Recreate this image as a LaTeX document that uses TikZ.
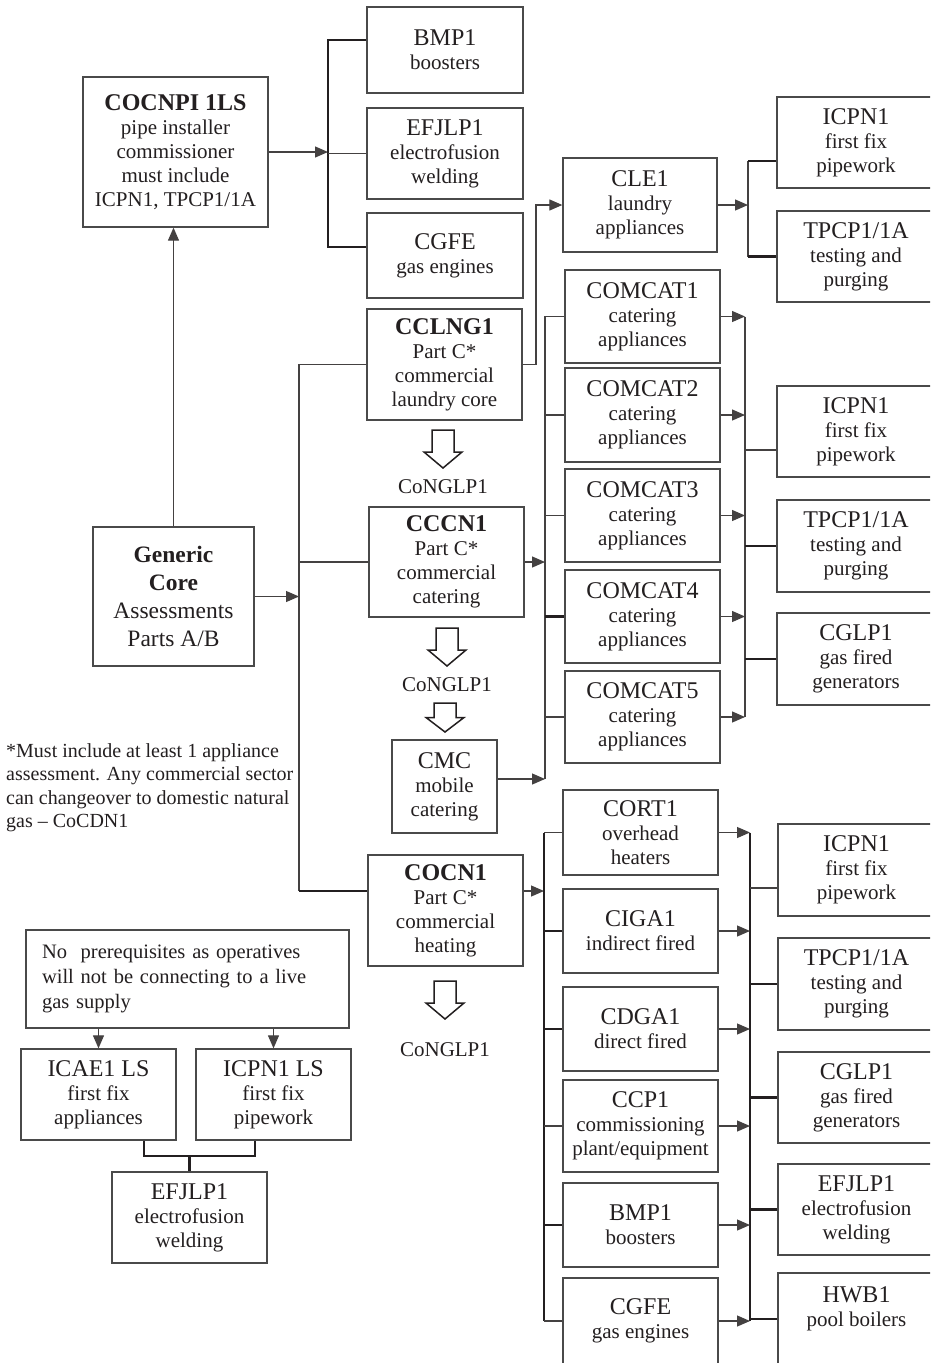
\documentclass[tikz,border=0pt]{standalone}
\usepackage{fontspec}
\setmainfont{Liberation Serif}
\usetikzlibrary{arrows.meta,calc}
\definecolor{ink}{HTML}{231F20}
\definecolor{frame}{HTML}{4A4A4A}
\newcommand\subf{\fontsize{21}{24}\selectfont}
\newcommand\ttlf{\fontsize{24}{24}\selectfont}
\newcommand\hd[1]{{\ttlf #1}}
\newcommand\hdb[1]{{\ttlf\bfseries #1}}

\begin{document}
\begin{tikzpicture}[x=1pt,y=-1pt,
  unit/.style={draw=frame, line width=1.3pt, inner sep=0pt, align=center, text=ink, font=\subf},
  thinln/.style={draw=ink!85, line width=1.2pt},
  thickln/.style={draw=ink, line width=2.2pt},
  tip/.style={-{Triangle[length=13pt,width=11pt]}},
  lab/.style={inner sep=0pt, text=ink, font=\subf},
  hollow/.pic={\draw[draw=ink, line width=1.5pt, fill=white, line join=miter]
     (-11,-19) -- (11,-19) -- (11,3) -- (19,3) -- (0,19) -- (-19,3) -- (-11,3) -- cycle;},
  hollowshort/.pic={\draw[draw=ink, line width=1.5pt, fill=white, line join=miter]
     (-11,-14.5) -- (11,-14.5) -- (11,0) -- (19,0) -- (0,14.5) -- (-19,0) -- (-11,0) -- cycle;}
]
\useasboundingbox (0,0) rectangle (930,1363);
\fill[white] (0,0) rectangle (930,1363);
\clip (0,0) rectangle (930,1363);

% ---------- pipe installer branch ----------
\node[unit, minimum width=185pt, minimum height=150pt] (cocnpi) at (175.5,152)
  {\hdb{COCNPI 1LS}\\pipe installer\\commissioner\\must include\\ICPN1, TPCP1/1A};
\node[unit, minimum width=156pt, minimum height=86pt] (bmpA) at (445,50) {\hd{BMP1}\\boosters};
\node[unit, minimum width=156pt, minimum height=91pt] (efjA) at (445,153.5) {\hd{EFJLP1}\\electrofusion\\welding};
\node[unit, minimum width=156pt, minimum height=85pt] (cgfeA) at (445,255.5) {\hd{CGFE}\\gas engines};

% ---------- laundry branch ----------
\node[unit, minimum width=154pt, minimum height=94pt] (cle) at (640,205) {\hd{CLE1}\\laundry\\appliances};
\node[unit, minimum width=158pt, minimum height=91pt] (icpnA) at (856,142.5) {\hd{ICPN1}\\first fix\\pipework};
\node[unit, minimum width=158pt, minimum height=91pt] (tpcpA) at (856,256.5) {\hd{TPCP1/1A}\\testing and\\purging};
\node[unit, minimum width=155pt, minimum height=111pt] (cclng) at (444.5,364.5)
  {\hdb{CCLNG1}\\Part C*\\commercial\\laundry core};

% ---------- catering branch ----------
\node[unit, minimum width=155pt, minimum height=93pt] (cat1) at (642.5,316.5) {\hd{COMCAT1}\\catering\\appliances};
\node[unit, minimum width=155pt, minimum height=94pt] (cat2) at (642.5,415) {\hd{COMCAT2}\\catering\\appliances};
\node[unit, minimum width=155pt, minimum height=93pt] (cat3) at (642.5,515.5) {\hd{COMCAT3}\\catering\\appliances};
\node[unit, minimum width=155pt, minimum height=93pt] (cat4) at (642.5,616.5) {\hd{COMCAT4}\\catering\\appliances};
\node[unit, minimum width=155pt, minimum height=92pt] (cat5) at (642.5,717) {\hd{COMCAT5}\\catering\\appliances};
\node[unit, minimum width=158pt, minimum height=91pt] (icpnB) at (856,431.5) {\hd{ICPN1}\\first fix\\pipework};
\node[unit, minimum width=158pt, minimum height=92pt] (tpcpB) at (856,546) {\hd{TPCP1/1A}\\testing and\\purging};
\node[unit, minimum width=158pt, minimum height=92pt] (cglpB) at (856,659) {\hd{CGLP1}\\gas fired\\generators};
\node[unit, minimum width=155pt, minimum height=110pt] (cccn) at (446.5,562)
  {\hdb{CCCN1}\\Part C*\\commercial\\catering};
\node[unit, minimum width=105pt, minimum height=93pt] (cmc) at (444.5,786.5) {\hd{CMC}\\mobile\\catering};

% ---------- core ----------
\node[unit, minimum width=161pt, minimum height=139pt, font=\fontsize{23.5}{28}\selectfont] (generic) at (173.5,596.5)
  {{\bfseries Generic}\\{\bfseries Core}\\Assessments\\Parts A/B};

% ---------- heating branch ----------
\node[unit, minimum width=155pt, minimum height=111pt] (cocn) at (445.5,910.5)
  {\hdb{COCN1}\\Part C*\\commercial\\heating};
\node[unit, minimum width=155pt, minimum height=85pt] (cort) at (640.5,832.5) {\hd{CORT1}\\overhead\\heaters};
\node[unit, minimum width=155pt, minimum height=84pt] (ciga) at (640.5,931) {\hd{CIGA1}\\indirect fired};
\node[unit, minimum width=155pt, minimum height=84pt] (cdga) at (640.5,1029) {\hd{CDGA1}\\direct fired};
\node[unit, minimum width=155pt, minimum height=92pt] (ccp) at (640.5,1126) {\hd{CCP1}\\commissioning\\plant/equipment};
\node[unit, minimum width=155pt, minimum height=84pt] (bmpB) at (640.5,1225) {\hd{BMP1}\\boosters};
\node[unit, minimum width=155pt, minimum height=86pt] (cgfeB) at (640.5,1321) {\hd{CGFE}\\gas engines};
\node[unit, minimum width=157pt, minimum height=92pt] (icpnC) at (856.5,870) {\hd{ICPN1}\\first fix\\pipework};
\node[unit, minimum width=157pt, minimum height=92pt] (tpcpC) at (856.5,984) {\hd{TPCP1/1A}\\testing and\\purging};
\node[unit, minimum width=157pt, minimum height=91pt] (cglpC) at (856.5,1097.5) {\hd{CGLP1}\\gas fired\\generators};
\node[unit, minimum width=157pt, minimum height=91pt] (efjC) at (856.5,1209.5) {\hd{EFJLP1}\\electrofusion\\welding};
\node[unit, minimum width=157pt, minimum height=92pt] (hwb) at (856.5,1319) {\hd{HWB1}\\pool boilers\\\mbox{}};

% ---------- no-prerequisite route ----------
\node[unit, align=left, text width=291pt, inner xsep=16pt, minimum height=98pt,
      font=\fontsize{20.5}{25}\selectfont] (nopre) at (187.5,979)
  {No~ prerequisites as operatives\\will not be connecting to a live\\gas supply};
\node[unit, minimum width=155pt, minimum height=91pt] (icae) at (98.5,1094.5) {\hd{ICAE1 LS}\\first fix\\appliances};
\node[unit, minimum width=155pt, minimum height=91pt] (icpnL) at (273.5,1094.5) {\hd{ICPN1 LS}\\first fix\\pipework};
\node[unit, minimum width=155pt, minimum height=91pt] (efjL) at (189.5,1217.5) {\hd{EFJLP1}\\electrofusion\\welding};

% ---------- footnote ----------
\node[anchor=north west, align=left, inner sep=0pt, text=ink, font=\fontsize{20}{23.5}\selectfont] (note) at (6,743)
  {*Must include at least 1 appliance\\assessment. Any commercial sector\\can changeover to domestic natural\\gas – CoCDN1};

% ---------- progression arrows and labels ----------
\pic at (443,449) {hollow};
\node[lab] (ngl1) at (443,487) {CoNGLP1};
\pic at (447,647) {hollow};
\node[lab] (ngl2) at (447,685) {CoNGLP1};
\pic at (445,717.5) {hollowshort};
\pic at (445,1000) {hollow};
\node[lab] (ngl3) at (445,1050) {CoNGLP1};

% ---------- connectors: core ----------
\draw[thinln, tip] (generic.north) -- (generic.north |- cocnpi.south);
\coordinate (mbT) at (299,364.5);
\coordinate (mbB) at (299,891);
\draw[thinln] (cclng.west) -- (mbT) -- (mbB);
\draw[thinln] (cccn.west) -- (cccn.west -| mbT);
\draw[thickln] (mbB) -- ([yshift=19.5pt]cocn.west);
\draw[thinln, tip] (generic.east) -- (generic.east -| mbT);

% pipe installer bracket
\coordinate (tlT) at (328,40);
\coordinate (tlB) at (328,247);
\draw[thinln, tip] (cocnpi.east) -- (cocnpi.east -| tlT);
\draw[thickln] (bmpA.west |- tlT) -- (tlT) -- (tlB) -- (cgfeA.west |- tlB);
\draw[thinln] (efjA.west) -- (efjA.west -| tlT);

% laundry
\coordinate (lj) at (536,364.5);
\draw[thinln, tip] (cclng.east) -- (lj) |- (cle.west);
\coordinate (clT) at (748,161);
\coordinate (clB) at (748,256.5);
\draw[thinln, tip] (cle.east) -- (cle.east -| clT);
\draw[thinln] (clT) -- (clB);
\draw[thickln] (clT) -- (icpnA.west |- clT);
\draw[thickln] (clB) -- (tpcpA.west);

% catering
\coordinate (cbT) at (545,316.5);
\coordinate (cbB) at (545,779);
\draw[thinln] (cat1.west) -- (cbT) -- (cbB);
\draw[thinln] (cat2.west) -- (cat2.west -| cbT);
\draw[thinln] (cat3.west) -- (cat3.west -| cbT);
\draw[thickln] (cat4.west) -- (cat4.west -| cbT);
\draw[thinln] (cat5.west) -- (cat5.west -| cbT);
\draw[thinln, tip] (cccn.east) -- (cccn.east -| cbT);
\draw[thinln, tip] (cmc.east |- cbB) -- (cbB);
\coordinate (crT) at (745,316.5);
\coordinate (crB) at (745,717);
\draw[thinln] (crT) -- (crB);
\foreach \c in {cat1,cat2,cat3,cat4,cat5}
  \draw[thinln, tip] (\c.east) -- (\c.east -| crT);
\draw[thinln] ([yshift=-18.5pt]icpnB.west) -- ([yshift=-18.5pt]icpnB.west -| crT);
\draw[thickln] (tpcpB.west) -- (tpcpB.west -| crT);
\draw[thickln] (cglpB.west) -- (cglpB.west -| crT);

% heating
\coordinate (hbT) at (544,832.5);
\coordinate (hbB) at (544,1321);
\draw[thinln, tip] ([yshift=19.5pt]cocn.east) -- ([yshift=19.5pt]cocn.east -| hbT);
\draw[thickln] (hbT) -- (hbB);
\draw[thinln] (cort.west) -- (hbT);
\draw[thickln] (ciga.west) -- (ciga.west -| hbT);
\draw[thickln] (cdga.west) -- (cdga.west -| hbT);
\draw[thinln] (ccp.west) -- (ccp.west -| hbT);
\draw[thickln] (bmpB.west) -- (bmpB.west -| hbT);
\draw[thinln] (cgfeB.west) -- (hbB);
\coordinate (hrT) at (750,832.5);
\coordinate (hrB) at (750,1321);
\draw[thickln] (hrT) -- (hrB);
\foreach \c in {cort,ciga,cdga,ccp,bmpB,cgfeB}
  \draw[thinln, tip] (\c.east) -- (\c.east -| hrT);
\draw[thinln] ([yshift=-18pt]icpnC.west) -- ([yshift=-18pt]icpnC.west -| hrT);
\draw[thickln] (tpcpC.west) -- (tpcpC.west -| hrT);
\draw[thickln] (cglpC.west) -- (cglpC.west -| hrT);
\draw[thickln] (efjC.west) -- (efjC.west -| hrT);
\draw[thickln] (hwb.west) -- (hwb.west -| hrT);

% no-prerequisite route
\draw[thinln, tip] (nopre.south -| icae.north) -- (icae.north);
\draw[thinln, tip] (nopre.south -| icpnL.north) -- (icpnL.north);
\coordinate (jn) at (189.5,1156);
\draw[thickln] ([xshift=45.5pt]icae.south) |- (jn) -| ([xshift=-18.5pt]icpnL.south);
\draw[thickln] (jn) -- (efjL.north);
\end{tikzpicture}
\end{document}
